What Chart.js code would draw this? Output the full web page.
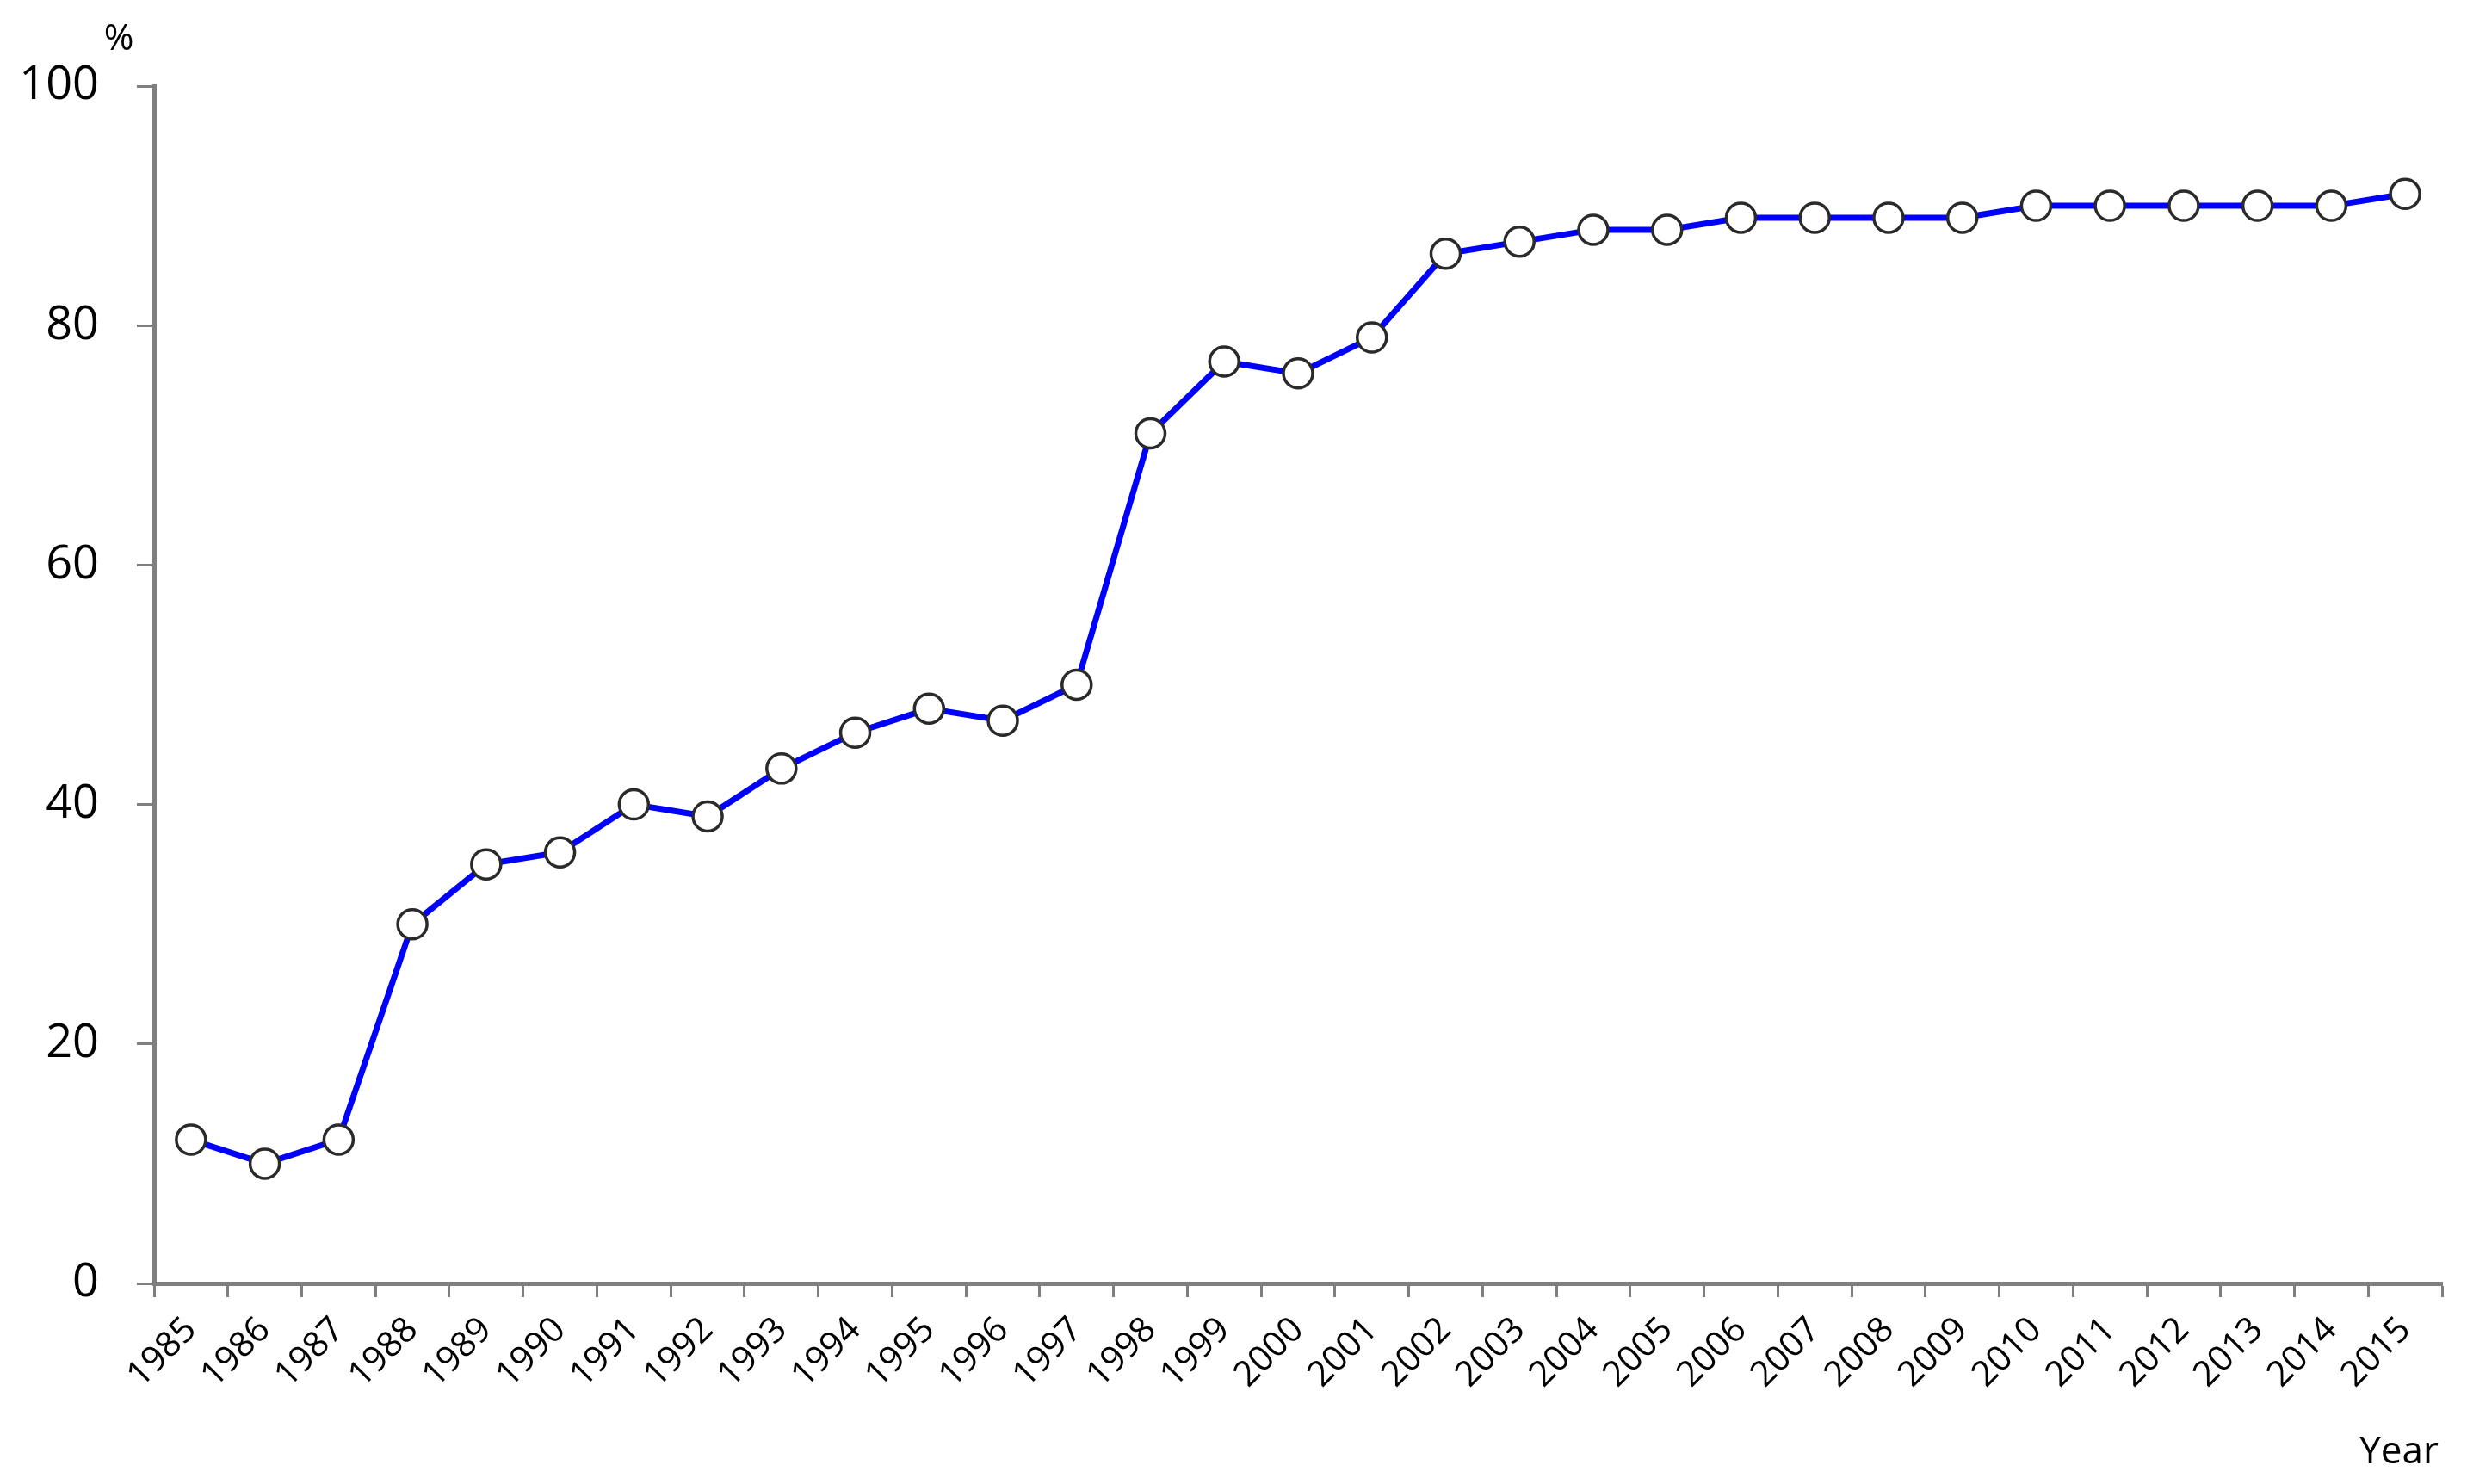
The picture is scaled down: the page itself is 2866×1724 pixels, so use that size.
<!DOCTYPE html>
<html>
<head>
<meta charset="utf-8">
<script src="https://cdn.jsdelivr.net/npm/chart.js@4.4.0/dist/chart.umd.min.js"></script>
<style>
  html, body { margin: 0; padding: 0; background: #fff; }
  #wrap { width: 2866px; height: 1724px; position: relative; }
</style>
</head>
<body>
<div id="wrap"><canvas id="line"></canvas></div>
<script>
/*--------------------DATA--------------------*/
let years = ['1985', '1986', '1987', '1988', '1989', '1990', '1991', '1992', '1993', '1994',
    '1995', '1996', '1997', '1998', '1999', '2000', '2001', '2002', '2003', '2004',
    '2005', '2006', '2007', '2008', '2009', '2010', '2011', '2012', '2013', '2014', '2015'];
let percent = [12, 10, 12, 30, 35, 36, 40, 39, 43, 46,
    48, 47, 50, 71, 77, 76, 79, 86, 87, 88,
    88, 89, 89, 89, 89, 90, 90, 90, 90, 90, 91];
let yTicks = [0, 20, 40, 60, 80, 100];
let yUnit = '%';
let xUnit = 'Year';

/*--------------------CHART--------------------*/
const FONT = '"Open Sans", Lato, sans-serif';
const AXIS = '#7f7f7f';

// draws the unit labels next to the axes
let unitLabels = {
    id: 'unitLabels',
    afterDraw(chart) {
        let ctx = chart.ctx;
        let area = chart.chartArea;
        ctx.save();
        ctx.fillStyle = '#000';
        ctx.font = '42px ' + FONT;
        ctx.textAlign = 'center';
        ctx.textBaseline = 'alphabetic';
        ctx.fillText(yUnit, area.left - 41, area.top - 42);
        ctx.textAlign = 'right';
        ctx.font = '44px ' + FONT;
        ctx.fillText(xUnit, area.right - 4, chart.height - 24);
        ctx.restore();
    }
};

let lineCanvas = document.getElementById('line');
let lineChart = new Chart(lineCanvas, {
    type: 'line',
    data: {
        labels: years,
        datasets: [
            {
                data: percent,
                borderColor: '#0000ff',
                borderWidth: 7,
                pointRadius: 17,
                pointHoverRadius: 17,
                pointBorderWidth: 3.5,
                pointBorderColor: '#2a2a2a',
                pointBackgroundColor: '#fff',
                tension: 0
            }
        ]
    },
    options: {
        responsive: true,
        maintainAspectRatio: false,
        animation: false,
        layout: { padding: { left: 0, top: 100, right: 29, bottom: 0 } },
        plugins: {
            legend: { display: false },
            tooltip: { enabled: false }
        },
        scales: {
            x: {
                offset: true,
                grid: {
                    offset: true,
                    drawOnChartArea: false,
                    drawTicks: true,
                    tickLength: 16,
                    tickWidth: 3,
                    tickColor: AXIS
                },
                border: { color: AXIS, width: 5 },
                ticks: {
                    color: '#000',
                    font: { family: FONT, size: 41 },
                    maxRotation: 45,
                    minRotation: 45,
                    autoSkip: false,
                    padding: 14
                },
                afterFit(scale) { scale.height = 233; }
            },
            y: {
                min: 0,
                max: 100,
                afterBuildTicks(scale) { scale.ticks = yTicks.map((v) => ({ value: v })); },
                grid: {
                    drawOnChartArea: false,
                    drawTicks: true,
                    tickLength: 20,
                    tickWidth: 3,
                    tickColor: AXIS
                },
                border: { color: AXIS, width: 5 },
                ticks: {
                    color: '#000',
                    font: { family: FONT, size: 54 },
                    padding: 44
                },
                afterFit(scale) { scale.width = 179; }
            }
        }
    },
    plugins: [unitLabels]
});
</script>
</body>
</html>
